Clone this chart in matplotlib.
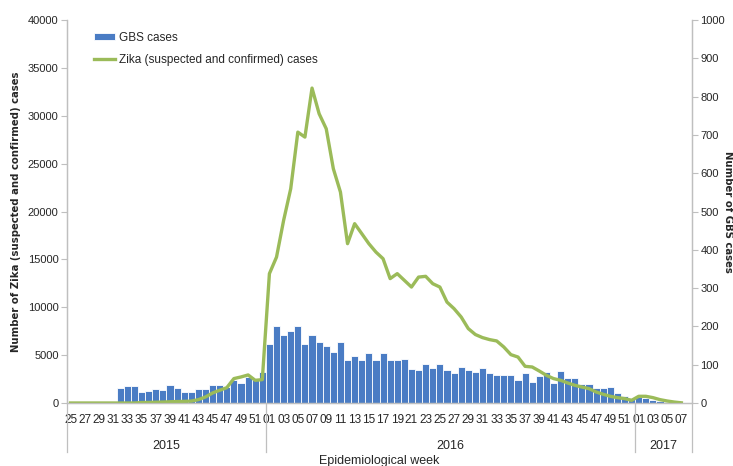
import matplotlib
matplotlib.use("Agg")
import matplotlib.pyplot as plt
import matplotlib.transforms as mtransforms
import numpy as np

# epidemiological weeks shown on the axis
weeks_2015 = list(range(25, 53))
weeks_2016 = list(range(1, 53))
weeks_2017 = list(range(1, 9))
years = ['2015', '2016', '2017']

# GBS cases per week (right axis)
gbs_2015 = [0, 0, 0, 0, 0, 0, 0,
            38, 45, 44, 29, 31, 36, 35, 47, 39, 28, 28, 37, 37, 48, 48, 43, 59, 51, 67, 61, 82]
gbs_2016 = [155, 201, 178, 188, 201, 155, 178, 159, 148, 134, 159, 113, 122, 113, 130, 113,
            131, 111, 111, 116, 88, 87, 103, 92, 103, 85, 79, 95, 85, 82, 92, 79, 74, 72, 74,
            61, 79, 56, 70, 80, 51, 84, 64, 65, 50, 49, 40, 39, 42, 27, 17, 14]
gbs_2017 = [15, 14, 8, 4, 2, 1, 0, 0]

# Zika (suspected and confirmed) cases per week (left axis)
zika_2015 = [0, 0, 0, 0, 0, 0, 0, 0, 0, 0, 50, 60, 80, 100, 130, 150, 170, 200, 350, 630,
             1050, 1330, 1600, 2550, 2720, 2930, 2370, 2440]
zika_2016 = [13510, 15240, 19070, 22380, 28290, 27770, 32890, 30210, 28640, 24470, 22030,
             16640, 18730, 17690, 16640, 15760, 15070, 12990, 13510, 12810, 12110, 13150,
             13230, 12460, 12110, 10540, 9850, 8980, 7770, 7150, 6830, 6620, 6480, 5850,
             5050, 4800, 3830, 3760, 3340, 2890, 2550, 2370, 2090, 1850, 1670, 1500, 1150,
             910, 700, 560, 460, 280]
zika_2017 = [700, 700, 560, 350, 210, 100, 20, np.nan]

week_labels = ['%02d' % w for w in weeks_2015 + weeks_2016 + weeks_2017]
year_sizes = [len(weeks_2015), len(weeks_2016), len(weeks_2017)]
gbs = np.array(gbs_2015 + gbs_2016 + gbs_2017, dtype=float)
zika = np.array(zika_2015 + zika_2016 + zika_2017, dtype=float)
x = np.arange(len(week_labels))

plt.rcParams['font.family'] = ['Liberation Sans', 'DejaVu Sans']
grey = '#bfbfbf'
txt = '#262626'

fig = plt.figure(figsize=(7.33, 4.66), dpi=100)
ax = fig.add_axes([67 / 733, 1 - 403 / 466, 625 / 733, 383 / 466])
ax2 = ax.twinx()

# GBS bars on the right scale, zika line on the left scale drawn above them
bars = ax2.bar(x, gbs, width=1.0, color='#4a7cc4', edgecolor='white', linewidth=0.6,
               label='GBS cases')
ax.set_zorder(ax2.get_zorder() + 1)
ax.patch.set_visible(False)
line, = ax.plot(x, zika, color='#9bbb59', linewidth=2.4,
                label='Zika (suspected and confirmed) cases')

ax.set_xlim(-0.5, len(x) - 0.5)
ax.set_ylim(0, 40000)
ax2.set_ylim(0, 1000)
ax.set_yticks(np.arange(0, 40001, 5000))
ax2.set_yticks(np.arange(0, 1001, 100))

ax.set_xticks(x[::2])
ax.set_xticklabels(week_labels[::2], fontsize=8.5, color=txt)
ax.tick_params(axis='x', length=0, pad=8)
ax.tick_params(axis='y', length=4, width=0.8, color=grey, labelsize=8, labelcolor=txt, pad=2)
ax2.tick_params(axis='y', length=4, width=0.8, color=grey, labelsize=8, labelcolor=txt, pad=2)

for a in (ax, ax2):
    a.spines['top'].set_visible(False)
    for s in ('left', 'right', 'bottom'):
        a.spines[s].set_color(grey)
        a.spines[s].set_linewidth(0.9)

# year groups under the week labels
trans = mtransforms.blended_transform_factory(ax.transData, ax.transAxes)
edges = np.concatenate([[0], np.cumsum(year_sizes)]) - 0.5
for xe in edges:
    ax.plot([xe, xe], [0, -0.128], transform=trans, color=grey, linewidth=0.9, clip_on=False)
for i, yr in enumerate(years):
    ax.text((edges[i] + edges[i + 1]) / 2, -0.112, yr, transform=trans, ha='center',
            va='center', fontsize=9, color=txt)

ax.text(0.5, -0.137, 'Epidemiological week', transform=ax.transAxes, ha='center', va='top',
        fontsize=9, color=txt)

ax.set_ylabel('Number of Zika (suspected and confirmed) cases', family='DejaVu Sans',
              fontweight='bold', fontsize=7.3, color=txt)
ax.yaxis.set_label_coords(-0.074, 0.5)
fig.text(728 / 733, 1 - 212 / 466, 'Number of GBS cases', family='DejaVu Sans',
         fontweight='bold', fontsize=7.3, color=txt, rotation=-90, ha='center', va='center')

ax.legend([bars, line], ['GBS cases', 'Zika (suspected and confirmed) cases'],
          loc='upper left', bbox_to_anchor=(0.034, 0.985), frameon=False, fontsize=8.5,
          handlelength=1.8, handleheight=0.5, handletextpad=0.3, labelspacing=0.9,
          borderpad=0, labelcolor=txt)

fig.savefig('out.png', dpi=100)
